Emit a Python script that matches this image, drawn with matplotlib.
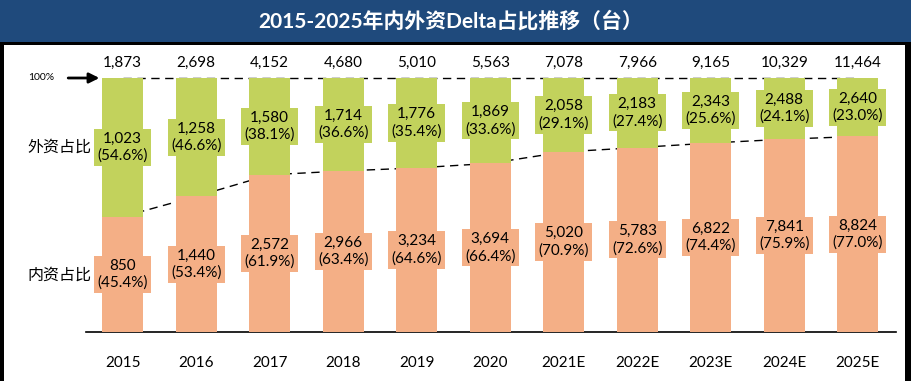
import matplotlib.pyplot as plt
from matplotlib.patches import Rectangle

plt.rcParams['font.family'] = ['Lato', 'Noto Sans CJK SC', 'DejaVu Sans']

# data
years = ['2015', '2016', '2017', '2018', '2019', '2020',
         '2021E', '2022E', '2023E', '2024E', '2025E']
totals = [1873, 2698, 4152, 4680, 5010, 5563, 7078, 7966, 9165, 10329, 11464]
foreign = [1023, 1258, 1580, 1714, 1776, 1869, 2058, 2183, 2343, 2488, 2640]
foreign_pct = [54.6, 46.6, 38.1, 36.6, 35.4, 33.6, 29.1, 27.4, 25.6, 24.1, 23.0]
domestic = [850, 1440, 2572, 2966, 3234, 3694, 5020, 5783, 6822, 7841, 8824]
domestic_pct = [45.4, 53.4, 61.9, 63.4, 64.6, 66.4, 70.9, 72.6, 74.4, 75.9, 77.0]

green = '#C2D25C'
salmon = '#F4AF86'
navy = '#1F4A7C'

W, H = 912, 381
fig = plt.figure(figsize=(W / 100, H / 100), dpi=100)

# title bar and frame
fig.patches.append(Rectangle((0, 1 - 42 / H), 1, 42 / H, transform=fig.transFigure,
                             facecolor=navy, edgecolor='none', zorder=0))
fig.patches.append(Rectangle((0, 1 - 45 / H), 1, 3 / H, transform=fig.transFigure,
                             facecolor='black', edgecolor='none', zorder=0))
fig.patches.append(Rectangle((0, 0), 4 / W, 1 - 42 / H, transform=fig.transFigure,
                             facecolor='black', edgecolor='none', zorder=0))
fig.patches.append(Rectangle((1 - 7 / W, 0), 7 / W, 1 - 42 / H, transform=fig.transFigure,
                             facecolor='black', edgecolor='none', zorder=0))
fig.text(0.494, 1 - 21 / H, '2015-2025年内外资Delta占比推移（台）', color='white',
         fontsize=15, fontweight='bold', ha='center', va='center')

ymax = 1.12
ax = fig.add_axes([86 / W, 49 / H, 810 / W, ymax * 254 / H])
x = list(range(len(years)))
dom = [p / 100 for p in domestic_pct]
fgn = [p / 100 for p in foreign_pct]

ax.bar(x, dom, width=0.56, color=salmon, zorder=3)
ax.bar(x, fgn, width=0.56, bottom=dom, color=green, zorder=3)

# dashed guide lines behind the bars
ax.plot([0, len(years) - 1], [1, 1], ls=(0, (6, 4)), color='black', lw=1, zorder=1)
ax.plot(x, dom, ls=(0, (6, 4)), color='black', lw=1, zorder=1)

fs = 11
for i in x:
    ax.text(i, dom[i] / 2, f'{domestic[i]:,}\n({domestic_pct[i]:.1f}%)',
            ha='center', va='center', fontsize=fs, linespacing=1.25, zorder=4,
            bbox=dict(boxstyle='square,pad=0.2', fc=salmon, ec='none'))
    ax.text(i, dom[i] + fgn[i] / 2, f'{foreign[i]:,}\n({foreign_pct[i]:.1f}%)',
            ha='center', va='center', fontsize=fs, linespacing=1.25, zorder=4,
            bbox=dict(boxstyle='square,pad=0.2', fc=green, ec='none'))
    ax.text(i, 1.06, f'{totals[i]:,}', ha='center', va='center', fontsize=fs)

ax.set_xlim(-0.5, 10.52)
ax.set_ylim(0, ymax)
ax.set_xticks(x)
ax.set_xticklabels(years, fontsize=fs)
ax.tick_params(axis='x', length=0, pad=17)
ax.set_yticks([])
for s in ['left', 'right', 'top']:
    ax.spines[s].set_visible(False)
ax.spines['bottom'].set_linewidth(1.2)

# left side annotations
ax.annotate('', xy=(-0.28, 1), xytext=(-0.78, 1), xycoords='data',
            arrowprops=dict(arrowstyle='-|>', color='black', lw=2, mutation_scale=15),
            annotation_clip=False)
ax.text(-1.11, 1, '100%', fontsize=7.5, ha='center', va='center')
ax.text(-0.86, 0.727, '外资占比', fontsize=11.5, ha='center', va='center')
ax.text(-0.86, 0.223, '内资占比', fontsize=11.5, ha='center', va='center')

fig.savefig('out.png', dpi=100)
